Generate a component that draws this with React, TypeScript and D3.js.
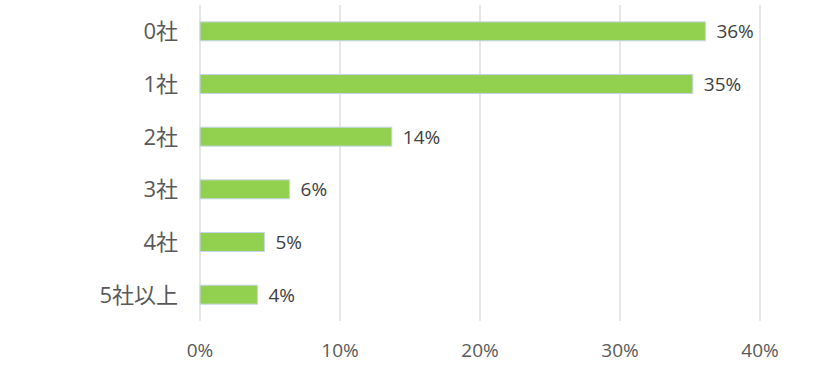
import React from "react";
import * as d3 from "d3";

const categories = ["0社", "1社", "2社", "3社", "4社", "5社以上"];
const values = [36.1, 35.2, 13.7, 6.4, 4.6, 4.1];
const valueLabels = ["36%", "35%", "14%", "6%", "5%", "4%"];
const xTicks = [0, 10, 20, 30, 40];

const W = 817;
const H = 369;
const left = 200;
const right = 760;
const top = 5;
const bottom = 321;
const FONT = "'Open Sans', 'Noto Sans CJK JP', sans-serif";

export default function App() {
  const x = d3.scaleLinear().domain([0, 40]).range([left, right]);
  const y = d3
    .scaleBand<string>()
    .domain(categories)
    .range([top, bottom])
    .paddingInner(0.64)
    .paddingOuter(0.32);

  return (
    <svg
      width={W}
      height={H}
      style={{ position: "absolute", left: 0, top: 0, background: "#fff" }}
      fontFamily={FONT}
    >
      {xTicks.map((t) => (
        <line
          key={"g" + t}
          x1={x(t)}
          x2={x(t)}
          y1={top}
          y2={bottom}
          stroke="#d9d9d9"
          strokeWidth={1.3}
        />
      ))}
      {categories.map((c, i) => (
        <g key={c}>
          <rect
            x={x(0)}
            y={y(c)!}
            width={x(values[i]) - x(0)}
            height={y.bandwidth()}
            fill="#92d050"
            stroke="#c5d6ea"
            strokeWidth={1}
          />
          <text
            x={x(values[i]) + 11}
            y={y(c)! + y.bandwidth() / 2}
            dy="0.36em"
            fontSize={19}
            fill="#404040"
          >
            {valueLabels[i]}
          </text>
          <text
            x={178}
            y={y(c)! + y.bandwidth() / 2}
            dy="0.36em"
            textAnchor="end"
            fontSize={22}
            fill="#595959"
          >
            {c}
          </text>
        </g>
      ))}
      {xTicks.map((t) => (
        <text
          key={"t" + t}
          x={x(t)}
          y={357}
          textAnchor="middle"
          fontSize={19}
          fill="#595959"
        >
          {t + "%"}
        </text>
      ))}
    </svg>
  );
}
